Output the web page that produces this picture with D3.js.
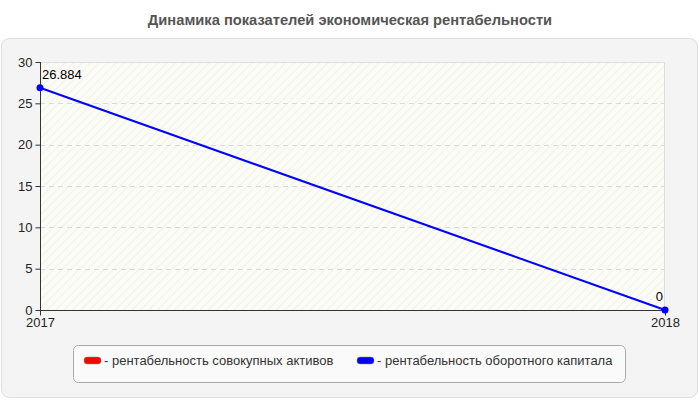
<!DOCTYPE html>
<html><head><meta charset="utf-8">
<script src="https://cdn.jsdelivr.net/npm/d3@7"></script>
<style>body{margin:0;background:#fff;font-family:Arial,"Liberation Sans",sans-serif}</style>
</head><body><svg id="c" width="700" height="400"></svg>
<script>
const title = "Динамика показателей экономическая рентабельности";
const years = ["2017", "2018"];
const seriesNames = ["рентабельность совокупных активов", "рентабельность оборотного капитала"];
const seriesColors = ["#ff0000", "#0000ff"];
const assetsValues = [null, null];
const workingCapitalValues = [26.884, 0];
const yTicks = [0, 5, 10, 15, 20, 25, 30];

const FF = "Arial,'Liberation Sans',sans-serif";
const svg = d3.select("#c");
const defs = svg.append("defs");
const pat = defs.append("pattern").attr("id","hatch").attr("patternUnits","userSpaceOnUse")
  .attr("width",6).attr("height",6).attr("patternTransform","rotate(45)");
pat.append("rect").attr("width",6).attr("height",6).attr("fill","#fcfcf7");
pat.append("line").attr("x1",0).attr("y1",0).attr("x2",0).attr("y2",6).attr("stroke","#efefe8").attr("stroke-width",1.5);

svg.append("text").attr("x",350).attr("y",25).attr("text-anchor","middle")
  .attr("font-size",14.7).attr("font-weight","bold").attr("fill","#555").text(title);

svg.append("rect").attr("x",1.5).attr("y",38.5).attr("width",696).attr("height",359).attr("rx",8)
  .attr("fill","#f4f4f4").attr("stroke","#dddddd");

const L=40,R=665,T=62,B=310;
const x = d3.scalePoint().domain(years).range([L,R]);
const y = d3.scaleLinear().domain([0,30]).range([B,T]);

svg.append("rect").attr("x",L).attr("y",T).attr("width",R-L).attr("height",B-T).attr("fill","url(#hatch)");
svg.append("path").attr("d",`M${L},${T+0.5}H${R-0.5}V${B}`).attr("fill","none").attr("stroke","#dcdcdc");

svg.append("g").selectAll("line").data(yTicks.filter(t=>t>0&&t<30)).join("line")
  .attr("x1",L).attr("x2",R).attr("y1",d=>Math.round(y(d))+0.5).attr("y2",d=>Math.round(y(d))+0.5)
  .attr("stroke","#dadada").attr("stroke-dasharray","5,4");

const ya = svg.append("g").attr("transform",`translate(${L+0.5},0)`)
  .call(d3.axisLeft(y).tickValues(yTicks).tickSize(5).tickPadding(3));
ya.select(".domain").attr("stroke","#333").attr("d",`M0,${T}V${B}`);
ya.selectAll(".tick line").attr("stroke","#333");
ya.selectAll("text").attr("font-size",13).attr("fill","#222").attr("font-family",FF);

const xa = svg.append("g").attr("transform",`translate(0,${B+0.5})`)
  .call(d3.axisBottom(x).tickSize(5).tickPadding(2));
xa.select(".domain").attr("stroke","#333").attr("d",`M${L},0H${R}`);
xa.selectAll(".tick line").attr("stroke","#333");
xa.selectAll("text").attr("font-size",13).attr("fill","#222").attr("font-family",FF);

const line = d3.line().defined(d=>d.v!=null).x(d=>x(d.k)).y(d=>y(d.v));
[assetsValues, workingCapitalValues].forEach((vals,i)=>{
  const data = years.map((k,j)=>({k,v:vals[j]}));
  svg.append("path").datum(data).attr("d",line).attr("fill","none")
    .attr("stroke",seriesColors[i]).attr("stroke-width",2);
  svg.append("g").selectAll("circle").data(data.filter(d=>d.v!=null)).join("circle")
    .attr("cx",d=>x(d.k)).attr("cy",d=>y(d.v)).attr("r",3.5).attr("fill",seriesColors[i]);
  svg.append("g").selectAll("text").data(data.filter(d=>d.v!=null)).join("text")
    .attr("x",(d,j)=>j===0?x(d.k)+2:x(d.k)-2)
    .attr("y",d=>y(d.v)-9)
    .attr("text-anchor",(d,j)=>j===0?"start":"end")
    .attr("font-size",13).attr("fill","#000").attr("font-family",FF).text(d=>d.v);
});

svg.append("rect").attr("x",73.5).attr("y",345.5).attr("width",552).attr("height",37).attr("rx",5)
  .attr("fill","#fafafa").attr("stroke","#aaaaaa");
const legX = [84, 357];
seriesNames.forEach((n,i)=>{
  svg.append("rect").attr("x",legX[i]).attr("y",357).attr("width",17).attr("height",7).attr("rx",3)
    .attr("fill",seriesColors[i]).attr("stroke","#888").attr("stroke-width",0.5);
  svg.append("text").attr("x",legX[i]+20).attr("y",365).attr("font-size",13).attr("fill","#333")
    .attr("font-family",FF).text("- "+n);
});
</script></body></html>
